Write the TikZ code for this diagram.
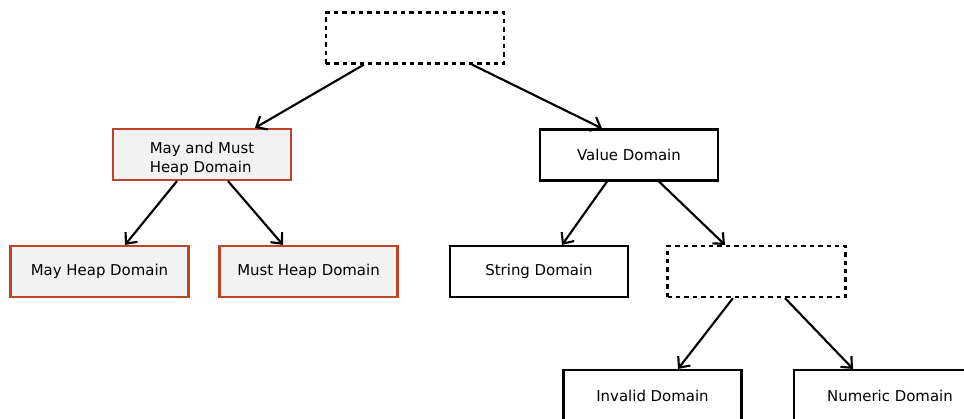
\documentclass[tikz,border=0pt]{standalone}
\usepackage{fontspec}
\setmainfont{DejaVu Sans}
\usetikzlibrary{arrows.meta,calc}
\definecolor{heapred}{RGB}{192,68,42}
\definecolor{heapfill}{RGB}{242,242,242}
\tikzset{
  box/.style={draw=black, line width=1.6pt, minimum width=133.5pt, minimum height=38.25pt, inner sep=0pt,
     font=\fontsize{11.2}{14.2}\selectfont, align=center},
  heap/.style={box, draw=heapred, fill=heapfill},
  ghost/.style={box, dash pattern=on 3.3pt off 3pt},
  conn/.style={line width=1.6pt, -{Straight Barb[length=6.5pt,width=11.5pt,line width=1.6pt]}}
}
\begin{document}
\begin{tikzpicture}[x=0.75pt,y=-0.75pt]
\useasboundingbox (0,0) rectangle (964,418);
\clip (0,0) rectangle (964,418);
\node[ghost] (top) at (415,38) {};
\node[heap, label={[font=\fontsize{11.2}{14.2}\selectfont, align=left, yshift=-3pt]center:May and Must\\Heap Domain}] (mm) at (202,154.5) {};
\node[box] (val) at (629,155) {Value Domain};
\node[heap] (mayh) at (99.5,271.5) {May Heap Domain};
\node[heap] (musth) at (308.5,271.5) {Must Heap Domain};
\node[box] (str) at (539,271.5) {String Domain};
\node[ghost] (mid) at (756.5,271.5) {};
\node[box] (inv) at (652.5,395.5) {Invalid Domain};
\node[box, minimum width=144pt] (num) at (890,395.5) {Numeric Domain};
\draw[conn] ($(top.south)+(-51,0)$) -- ($(mm.north)+(53,0)$);
\draw[conn] ($(top.south)+(57,0)$) -- ($(val.north)+(-27,0)$);
\draw[conn] ($(mm.south)+(-25,0)$) -- ($(mayh.north)+(25.5,0)$);
\draw[conn] ($(mm.south)+(26,0)$) -- ($(musth.north)+(-25.5,0)$);
\draw[conn] ($(val.south)+(-22,0)$) -- ($(str.north)+(23,0)$);
\draw[conn] ($(val.south)+(30,0)$) -- ($(mid.north)+(-31.5,0)$);
\draw[conn] ($(mid.south)+(-23.5,0)$) -- ($(inv.north)+(25.5,0)$);
\draw[conn] ($(mid.south)+(28.5,0)$) -- ($(num.north)+(-37,0)$);
\end{tikzpicture}
\end{document}
